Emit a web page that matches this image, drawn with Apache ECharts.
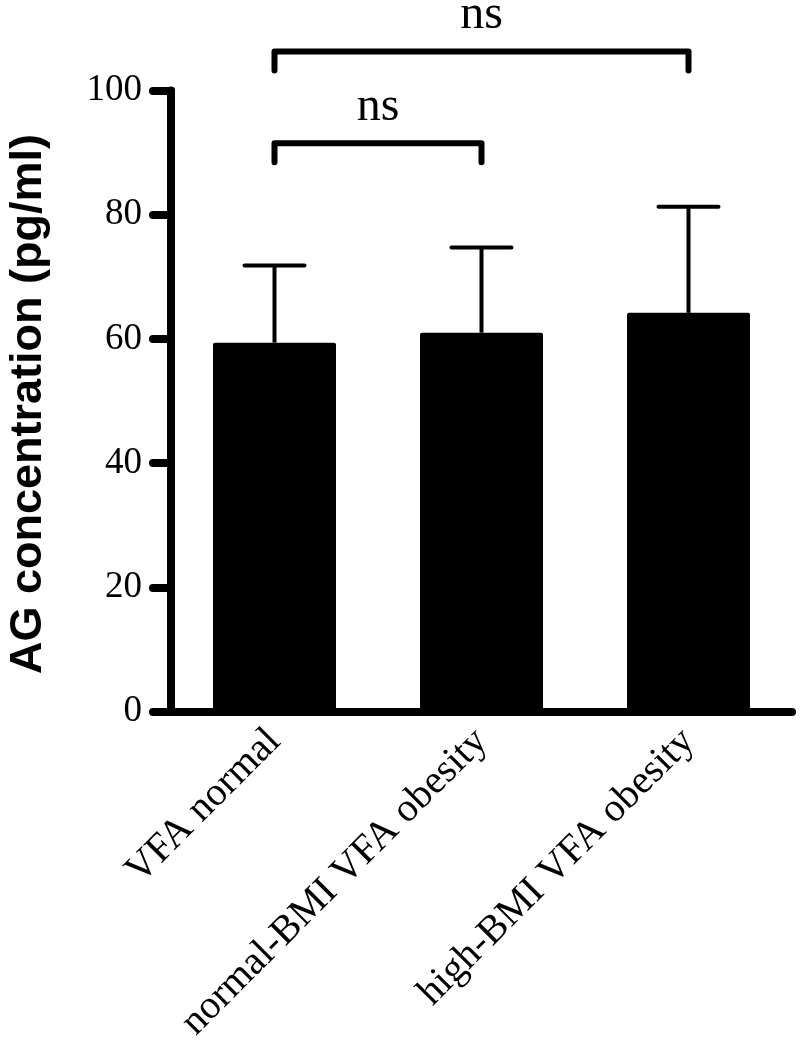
<!DOCTYPE html>
<html><head><meta charset="utf-8">
<script src="https://cdn.jsdelivr.net/npm/echarts@6/dist/echarts.min.js"></script>
<style>html,body{margin:0;padding:0;background:#fff}#c{width:800px;height:1060px}</style>
</head><body><div id="c"></div>
<script>
// ---- data ----
const categories = ['VFA normal', 'normal-BMI VFA obesity', 'high-BMI VFA obesity'];
const means = [59.4, 61.0, 64.2];
const errors = [12.4, 13.7, 17.1];
const yTickValues = [0, 20, 40, 60, 80, 100];
const compFrom = [0, 0];
const compTo = [1, 2];
const compY = [91.5, 106.3];
const compText = ['ns', 'ns'];

// ---- chart ----
const chart = echarts.init(document.getElementById('c'), null, {renderer: 'canvas'});
const errData = categories.map((c, i) => [i, means[i], means[i] + errors[i]]);
const compData = compFrom.map((f, i) => [f, compTo[i], compY[i], compText[i]]);

chart.setOption({
  animation: false,
  backgroundColor: '#fff',
  grid: {left: 171, top: 90.5, width: 621, height: 621, containLabel: false, outerBoundsMode: 'none'},
  xAxis: {
    type: 'category',
    data: categories,
    axisLine: {lineStyle: {color: '#000', width: 8, cap: 'round'}},
    axisTick: {show: false},
    axisLabel: {
      interval: 0, rotate: 45, margin: 24, padding: [42, 0, 0, 0],
      fontFamily: 'Liberation Serif', fontSize: 40, color: '#000'
    },
    splitLine: {show: false}
  },
  yAxis: {
    type: 'value',
    min: yTickValues[0], max: yTickValues[yTickValues.length - 1], interval: 20,
    axisLine: {show: true, lineStyle: {color: '#000', width: 8, cap: 'round'}},
    axisTick: {show: true, length: 18, lineStyle: {color: '#000', width: 8, cap: 'round'}},
    axisLabel: {margin: 29, fontFamily: 'Liberation Serif', fontSize: 37, color: '#000'},
    splitLine: {show: false},
    name: 'AG concentration (pg/ml)',
    nameLocation: 'middle',
    nameRotate: 90,
    nameGap: 120,
    nameTextStyle: {fontFamily: 'Liberation Sans', fontWeight: 'bold', fontSize: 45, color: '#000', padding: [0, 6, 0, 0]}
  },
  series: [
    {
      type: 'bar',
      data: means,
      barWidth: 123,
      itemStyle: {color: '#000', borderRadius: [2, 2, 0, 0]},
      z: 2
    },
    {
      type: 'custom',
      data: errData,
      encode: {x: 0, y: [1, 2]},
      z: 3,
      renderItem: function (params, api) {
        const x = api.value(0);
        const p0 = api.coord([x, api.value(1)]);
        const p1 = api.coord([x, api.value(2)]);
        const half = 30;
        return {
          type: 'group',
          children: [
            {type: 'line', shape: {x1: p0[0], y1: p0[1], x2: p1[0], y2: p1[1]}, style: {stroke: '#000', lineWidth: 4}},
            {type: 'line', shape: {x1: p1[0] - half, y1: p1[1], x2: p1[0] + half, y2: p1[1]}, style: {stroke: '#000', lineWidth: 4, lineCap: 'round'}}
          ]
        };
      }
    },
    {
      type: 'custom',
      data: compData,
      encode: {x: [0, 1], y: 2},
      clip: false,
      z: 4,
      renderItem: function (params, api) {
        const a = api.coord([api.value(0), api.value(2)]);
        const b = api.coord([api.value(1), api.value(2)]);
        const drop = 19;
        return {
          type: 'group',
          children: [
            {type: 'polyline', shape: {points: [[a[0], a[1] + drop], [a[0], a[1]], [b[0], b[1]], [b[0], b[1] + drop]]},
             style: {stroke: '#000', lineWidth: 6, lineCap: 'round', lineJoin: 'round', fill: null}},
            {type: 'text', style: {text: compText[params.dataIndex], x: (a[0] + b[0]) / 2, y: a[1] - 36,
             align: 'center', verticalAlign: 'middle', fontFamily: 'Liberation Serif', fontSize: 48, fill: '#000'}}
          ]
        };
      }
    }
  ]
});
</script>
</body></html>
